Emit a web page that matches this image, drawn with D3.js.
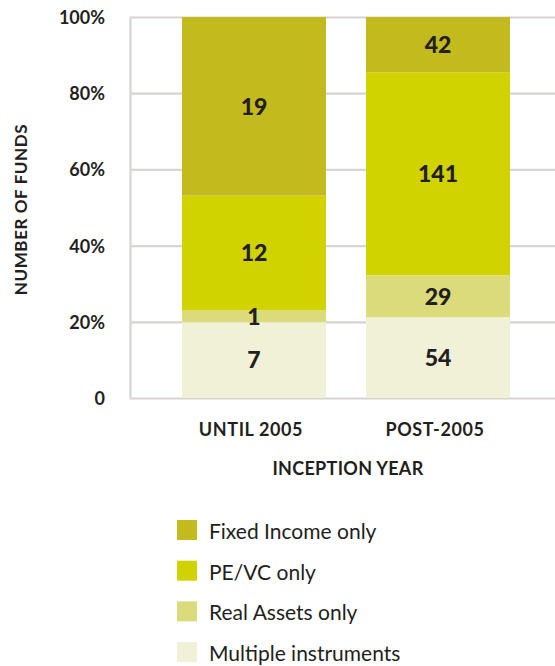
<!DOCTYPE html>
<html>
<head>
<meta charset="utf-8">
<script src="https://cdn.jsdelivr.net/npm/d3@7"></script>
<style>
  html, body { margin: 0; padding: 0; background: #ffffff; }
  svg { display: block; font-family: Lato, "Open Sans", sans-serif; }
</style>
</head>
<body>
<svg id="chart" width="555" height="666"></svg>
<script>
// ---- data ----
const categories = ["UNTIL 2005", "POST-2005"];
const seriesNames = ["Multiple instruments", "Real Assets only", "PE/VC only", "Fixed Income only"];
// bar segment shares (%) as drawn in the picture
const multipleShare = [19.9, 21.2];
const realAssetsShare = [3.1, 11.0];
const peVcShare = [30.1, 53.3];
const fixedIncomeShare = [46.9, 14.5];
// fund counts shown as labels
const multipleCount = [7, 54];
const realAssetsCount = [1, 29];
const peVcCount = [12, 141];
const fixedIncomeCount = [19, 42];
const yTicks = [0, 20, 40, 60, 80, 100];
const legendOrder = ["Fixed Income only", "PE/VC only", "Real Assets only", "Multiple instruments"];
const colors = ["#f1f1d8", "#dbdb7b", "#d1d300", "#c3bb1d"];

// ---- build ----
const shares = [multipleShare, realAssetsShare, peVcShare, fixedIncomeShare];
const counts = [multipleCount, realAssetsCount, peVcCount, fixedIncomeCount];
const table = categories.map((c, i) => {
  const row = { category: c };
  seriesNames.forEach((s, j) => { row[s] = shares[j][i]; });
  return row;
});
const stacked = d3.stack().keys(seriesNames)(table);

const svg = d3.select("#chart");
const axisX = 130, rightEdge = 555;
const y = d3.scaleLinear().domain([0, 100]).range([398, 17]);
const x = d3.scaleBand().domain(categories).range([182, 510]).paddingInner(40 / 184).paddingOuter(0);
const color = d3.scaleOrdinal().domain(seriesNames).range(colors);
const textColor = "#231f20";

// grid + y axis
const yAxis = svg.append("g")
  .attr("transform", `translate(${axisX},0)`)
  .call(d3.axisLeft(y).tickValues(yTicks)
    .tickFormat(d => d === 0 ? "0" : d + "%")
    .tickSize(-(rightEdge - axisX)).tickSizeOuter(0).tickPadding(25));
yAxis.selectAll(".tick line").attr("stroke", "#d7d4d1").attr("stroke-width", 2.2);
yAxis.select(".domain").attr("stroke", "#d7d4d1").attr("stroke-width", 2.2);
yAxis.selectAll(".tick text")
  .attr("fill", textColor).attr("font-size", 18).attr("font-weight", 700)
  .attr("font-family", "Lato, sans-serif").attr("dy", "0.36em");

// bars
const layers = svg.append("g").selectAll("g").data(stacked).join("g")
  .attr("fill", d => color(d.key));
layers.selectAll("rect").data(d => d).join("rect")
  .attr("x", d => x(d.data.category))
  .attr("width", x.bandwidth())
  .attr("y", d => y(d[1]))
  .attr("height", d => y(d[0]) - y(d[1]));

// segment labels
stacked.forEach((layer, j) => {
  svg.append("g").selectAll("text").data(layer).join("text")
    .attr("x", d => x(d.data.category) + x.bandwidth() / 2)
    .attr("y", d => (y(d[0]) + y(d[1])) / 2)
    .attr("dy", "0.36em")
    .attr("text-anchor", "middle")
    .attr("font-size", 23).attr("font-weight", 900).attr("fill", textColor)
    .text((d, i) => counts[j][i]);
});

// x labels
svg.append("g").selectAll("text").data(categories).join("text")
  .attr("x", d => x(d) + x.bandwidth() / 2 - 3)
  .attr("y", 436)
  .attr("text-anchor", "middle")
  .attr("font-size", 18).attr("font-weight", 700).attr("fill", textColor)
  .attr("letter-spacing", 0.6)
  .text(d => d);

svg.append("text")
  .attr("x", (x.range()[0] + x.range()[1]) / 2 + 2)
  .attr("y", 475)
  .attr("text-anchor", "middle")
  .attr("font-size", 18).attr("font-weight", 700).attr("fill", textColor)
  .attr("letter-spacing", 0.3)
  .text("INCEPTION YEAR");

svg.append("text")
  .attr("transform", "translate(27,209.5) rotate(-90)")
  .attr("text-anchor", "middle")
  .attr("font-size", 17).attr("font-weight", 700).attr("fill", textColor)
  .attr("letter-spacing", 0.6)
  .text("NUMBER OF FUNDS");

// legend
const legend = svg.append("g").attr("transform", "translate(177,520)");
const li = legend.selectAll("g").data(legendOrder).join("g")
  .attr("transform", (d, i) => `translate(0,${i * 40.7})`);
li.append("rect").attr("width", 20).attr("height", 20).attr("fill", d => color(d));
li.append("text").attr("x", 32).attr("y", 19)
  .attr("font-size", 21).attr("font-weight", 400).attr("fill", textColor)
  .text(d => d);
</script>
</body>
</html>
